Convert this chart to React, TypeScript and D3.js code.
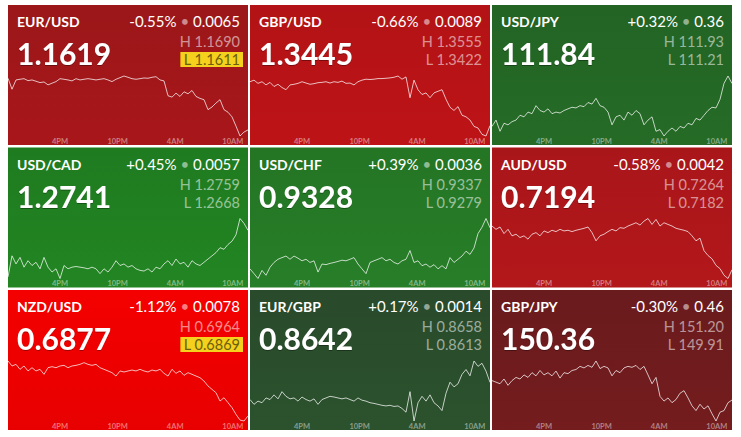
import React from "react";
import * as d3 from "d3";

const pairs = ["EUR/USD", "GBP/USD", "USD/JPY", "USD/CAD", "USD/CHF", "AUD/USD", "NZD/USD", "EUR/GBP", "GBP/JPY"];
const lastPrices = ["1.1619", "1.3445", "111.84", "1.2741", "0.9328", "0.7194", "0.6877", "0.8642", "150.36"];
const changePct = ["-0.55%", "-0.66%", "+0.32%", "+0.45%", "+0.39%", "-0.58%", "-1.12%", "+0.17%", "-0.30%"];
const changeAbs = ["0.0065", "0.0089", "0.36", "0.0057", "0.0036", "0.0042", "0.0078", "0.0014", "0.46"];
const highs = ["1.1690", "1.3555", "111.93", "1.2759", "0.9337", "0.7264", "0.6964", "0.8658", "151.20"];
const lows = ["1.1611", "1.3422", "111.21", "1.2668", "0.9279", "0.7182", "0.6869", "0.8613", "149.91"];
const lowAlert = [true, false, false, false, false, false, true, false, false];

const bgTop = ["#9b1719", "#b31316", "#236424", "#1f7b20", "#247524", "#a9161a", "#f40000", "#294a2b", "#6a1b1d"];
const bgBottom = ["#a8161a", "#bd1317", "#256b26", "#228522", "#277e28", "#b3171a", "#e80000", "#2b522d", "#741c1e"];

const tickTimes = [
  new Date(2018, 4, 14, 16),
  new Date(2018, 4, 14, 22),
  new Date(2018, 4, 15, 4),
  new Date(2018, 4, 15, 10),
];
const startTime = new Date(2018, 4, 14, 10, 35);
const endTime = new Date(2018, 4, 15, 11, 35);

const eurusd = [1.16870,1.16726,1.16848,1.16857,1.16865,1.16839,1.16848,1.16831,1.16813,1.16822,1.16783,1.16805,1.16826,1.16865,1.16857,1.16848,1.16835,1.16865,1.16848,1.16857,1.16865,1.16857,1.16848,1.16857,1.16865,1.16848,1.16826,1.16857,1.16878,1.16900,1.16883,1.16865,1.16857,1.16865,1.16874,1.16870,1.16883,1.16891,1.16848,1.16835,1.16640,1.16622,1.16674,1.16631,1.16692,1.16666,1.16709,1.16631,1.16605,1.16588,1.16457,1.16492,1.16544,1.16588,1.16457,1.16423,1.16362,1.16240,1.16110,1.16162,1.16190];
const gbpusd = [1.35423,1.35458,1.35387,1.35423,1.35352,1.35409,1.35317,1.35366,1.35295,1.35246,1.35352,1.35366,1.35387,1.35423,1.35394,1.35366,1.35380,1.35402,1.35409,1.35423,1.35394,1.35423,1.35409,1.35437,1.35387,1.35394,1.35352,1.35423,1.35458,1.35479,1.35472,1.35479,1.35493,1.35493,1.35500,1.35508,1.35522,1.35550,1.35479,1.35529,1.35069,1.35458,1.35246,1.35140,1.35175,1.35069,1.35175,1.35211,1.35246,1.35034,1.34857,1.34786,1.34871,1.34680,1.34645,1.34574,1.34433,1.34398,1.34256,1.34220,1.34450];
const usdjpy = [111.325,111.401,111.267,111.363,111.344,111.382,111.401,111.459,111.440,111.497,111.478,111.574,111.516,111.497,111.536,111.478,111.497,111.486,111.516,111.536,111.555,111.547,111.574,111.562,111.612,111.593,111.662,111.574,111.555,111.497,111.344,111.440,111.459,111.401,111.497,111.459,111.516,111.478,111.344,111.401,111.440,111.267,111.287,111.210,111.267,111.306,111.267,111.325,111.306,111.363,111.344,111.421,111.401,111.459,111.516,111.555,111.547,111.650,111.842,111.930,111.840];
const usdcad = [1.26704,1.27024,1.26901,1.27000,1.26852,1.26950,1.26877,1.26926,1.26827,1.27000,1.26852,1.26778,1.26827,1.26680,1.26877,1.26827,1.26852,1.26862,1.26852,1.26842,1.26827,1.26852,1.26827,1.26754,1.26827,1.26778,1.26852,1.26950,1.26877,1.26901,1.26852,1.26877,1.26827,1.26803,1.26793,1.26827,1.26778,1.26852,1.26827,1.26901,1.26950,1.26877,1.26975,1.26901,1.26926,1.26852,1.26950,1.26901,1.26877,1.26926,1.26975,1.27024,1.27073,1.27147,1.27123,1.27196,1.27246,1.27344,1.27590,1.27516,1.27410];
const usdchf = [0.92883,0.92837,0.92790,0.92868,0.92821,0.92899,0.92945,0.92976,0.92992,0.93007,0.92976,0.93007,0.92986,0.92961,0.92976,0.92945,0.92961,0.92852,0.92930,0.92924,0.92936,0.92945,0.92955,0.92967,0.92961,0.92976,0.92992,0.92930,0.92883,0.92837,0.92945,0.92961,0.92976,0.92992,0.92961,0.92976,0.92945,0.92930,0.92961,0.92976,0.93060,0.92945,0.92961,0.92914,0.92930,0.92899,0.92924,0.92883,0.92914,0.92883,0.92992,0.92945,0.92976,0.93007,0.93054,0.93023,0.93085,0.93224,0.93286,0.93370,0.93280];
const audusd = [0.72537,0.72492,0.72524,0.72434,0.72492,0.72403,0.72425,0.72380,0.72403,0.72358,0.72425,0.72447,0.72403,0.72470,0.72447,0.72479,0.72461,0.72492,0.72470,0.72479,0.72461,0.72479,0.72492,0.72506,0.72524,0.72447,0.72335,0.72403,0.72425,0.72461,0.72492,0.72470,0.72515,0.72506,0.72537,0.72559,0.72582,0.72550,0.72604,0.72640,0.72559,0.72627,0.72537,0.72582,0.72559,0.72537,0.72506,0.72492,0.72479,0.72461,0.72403,0.72335,0.72371,0.72201,0.72134,0.72089,0.71999,0.71955,0.71865,0.71820,0.71940];
const nzdusd = [0.69640,0.69561,0.69587,0.69508,0.69561,0.69482,0.69534,0.69482,0.69508,0.69429,0.69534,0.69550,0.69534,0.69561,0.69571,0.69534,0.69561,0.69571,0.69587,0.69614,0.69587,0.69571,0.69587,0.69534,0.69508,0.69482,0.69455,0.69402,0.69482,0.69466,0.69482,0.69497,0.69482,0.69508,0.69482,0.69466,0.69497,0.69482,0.69508,0.69445,0.69402,0.69508,0.69445,0.69482,0.69413,0.69455,0.69429,0.69402,0.69376,0.69323,0.69244,0.69191,0.69138,0.69006,0.69059,0.68980,0.68901,0.68795,0.68705,0.68690,0.68770];
const eurgbp = [0.86291,0.86255,0.86279,0.86267,0.86303,0.86291,0.86326,0.86296,0.86350,0.86315,0.86296,0.86303,0.86279,0.86310,0.86291,0.86279,0.86296,0.86255,0.86291,0.86303,0.86315,0.86310,0.86303,0.86296,0.86303,0.86291,0.86279,0.86303,0.86286,0.86279,0.86267,0.86262,0.86255,0.86248,0.86243,0.86248,0.86239,0.86243,0.86224,0.86196,0.86350,0.86130,0.86267,0.86315,0.86279,0.86326,0.86267,0.86243,0.86208,0.86338,0.86421,0.86386,0.86409,0.86480,0.86516,0.86469,0.86580,0.86540,0.86563,0.86504,0.86420];
const gbpjpy = [150.779,150.745,150.711,150.813,150.677,150.779,150.847,150.813,150.901,150.847,150.949,150.881,150.996,150.901,150.949,150.881,150.983,150.833,150.949,150.928,150.996,151.017,151.085,151.051,151.105,151.064,151.200,151.037,151.085,151.051,150.881,150.996,150.949,151.051,151.085,151.064,151.105,151.017,151.085,150.901,150.711,150.847,150.440,150.338,150.406,150.304,150.372,150.507,150.562,150.406,150.236,150.134,150.270,150.168,150.236,150.066,149.910,150.100,150.134,150.304,150.360];

const seriesList = [eurusd, gbpusd, usdjpy, usdcad, usdchf, audusd, nzdusd, eurgbp, gbpjpy];

function measure(text: string, font: string): number {
  const c = document.createElement("canvas").getContext("2d");
  if (!c) return text.length * 7;
  c.font = font;
  return c.measureText(text).width;
}

export default function App() {
  const W = 240;
  const H = 140;
  const x0 = 8;
  const y0 = 5;
  const pitchX = 242;
  const pitchY = 142.5;
  const plotTop = 71;
  const plotBottom = 131;
  const pad = 8;
  const timeX = d3.scaleTime().domain([startTime, endTime]).range([0, W]);
  const fmt = d3.timeFormat("%-I%p");
  const font = "Lato, 'Open Sans', sans-serif";
  const hlSize = 14.5;

  return (
    <svg width={741} height={437} style={{ position: "absolute", left: 0, top: 0, fontFamily: font }}>
      <defs>
        {pairs.map((p, i) => (
          <linearGradient key={p} id={`bg${i}`} x1="0" y1="0" x2="0" y2="1">
            <stop offset="0" stopColor={bgTop[i]} />
            <stop offset="1" stopColor={bgBottom[i]} />
          </linearGradient>
        ))}
        <filter id="shadow" x="-10%" y="-20%" width="120%" height="150%">
          <feDropShadow dx="0" dy="1" stdDeviation="0.7" floodColor="#000" floodOpacity="0.35" />
        </filter>
      </defs>
      <rect x={0} y={0} width={741} height={437} fill="#fff" />
      {pairs.map((p, i) => {
        const col = i % 3;
        const row = Math.floor(i / 3);
        const tx = x0 + col * pitchX;
        const ty = y0 + row * pitchY;
        const data = seriesList[i];
        const x = d3.scaleLinear().domain([0, data.length - 1]).range([0, W]);
        const y = d3.scaleLinear().domain([+lows[i], +highs[i]]).range([plotBottom, plotTop]);
        const line = d3.line<number>().x((_, j) => x(j)).y((d) => y(d));
        const lowText = `L ${lows[i]}`;
        const lowW = measure(lowText, `${hlSize}px Lato`);
        return (
          <g key={p} transform={`translate(${tx},${ty})`}>
            <rect width={W} height={H} fill={`url(#bg${i})`} />
            <path d={line(data) || ""} fill="none" stroke="#fff" strokeOpacity={0.72} strokeWidth={1} />
            {tickTimes.map((t, k) => (
              <text key={k} x={timeX(t)} y={H - 1.5} textAnchor="middle" fontSize={7.5} fontWeight={700} fill="#fff" fillOpacity={0.45}>
                {fmt(t)}
              </text>
            ))}
            <text x={pad + 1} y={22} fontSize={14} fontWeight={700} fill="#fff">{p}</text>
            <text x={W - pad} y={22} textAnchor="end" fontSize={15} fill="#fff">
              <tspan>{changePct[i]} </tspan>
              <tspan fillOpacity={0.5}>•</tspan>
              <tspan> {changeAbs[i]}</tspan>
            </text>
            <text x={pad + 1} y={60} fontSize={30} fontWeight={700} fill="#fff" filter="url(#shadow)">{lastPrices[i]}</text>
            <text x={W - pad} y={42} textAnchor="end" fontSize={hlSize} fill="#fff" fillOpacity={0.55}>{`H ${highs[i]}`}</text>
            {lowAlert[i] ? (
              <g>
                <rect x={W - pad - lowW - 3} y={47} width={lowW + 6} height={15} fill="#f5d01c" />
                <text x={W - pad} y={60} textAnchor="end" fontSize={hlSize} fill="#6b5e10">{lowText}</text>
              </g>
            ) : (
              <text x={W - pad} y={60} textAnchor="end" fontSize={hlSize} fill="#fff" fillOpacity={0.55}>{lowText}</text>
            )}
          </g>
        );
      })}
    </svg>
  );
}
